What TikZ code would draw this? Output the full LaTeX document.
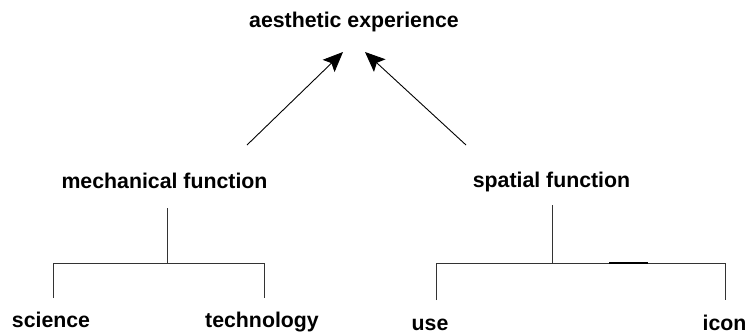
\documentclass[tikz,border=0pt]{standalone}
\usepackage{fontspec}
\setmainfont{Liberation Sans}
\usetikzlibrary{arrows.meta}
\begin{document}
\begin{tikzpicture}[x=1pt,y=-1pt,
  lbl/.style={font=\fontsize{21.3}{24}\selectfont\bfseries, anchor=base, inner sep=0pt},
  conn/.style={line width=0.9pt, draw=black!80},
  arr/.style={line width=0.9pt, draw=black, -{Stealth[length=20pt,width=17pt,inset=4pt]}}]
\useasboundingbox (0,0) rectangle (750,335);
\node[lbl] (ae) at (354,27.5) {aesthetic experience};
\node[lbl] (mf) at (164.5,188) {mechanical function};
\node[lbl] (sf) at (551.5,187) {spatial function};
\node[lbl] (sc) at (51,327) {science};
\node[lbl] (te) at (262,327) {technology};
\node[lbl] (us) at (430,330) {use};
\node[lbl] (ic) at (724.5,330) {icon};
% arrows
\coordinate (a1s) at (247,145);
\coordinate (a1t) at (343,52);
\coordinate (a2s) at (466,145);
\coordinate (a2t) at (365,52);
\draw[arr] (a1s) -- (a1t);
\draw[arr] (a2s) -- (a2t);
% left tree
\coordinate (m0) at (167,208);
\coordinate (m1) at (167,263);
\coordinate (ml) at (53,263);
\coordinate (mr) at (264,263);
\coordinate (mlb) at (53,298);
\coordinate (mrb) at (264,298);
\draw[conn] (m0) -- (m1);
\draw[conn] (mlb) -- (ml) -- (mr) -- (mrb);
% right tree
\coordinate (s0) at (552,205);
\coordinate (s1) at (552,263);
\coordinate (sl) at (436,263);
\coordinate (sr) at (725,263);
\coordinate (slb) at (436,300);
\coordinate (srb) at (725,300);
\coordinate (t1) at (609,263);
\coordinate (t2) at (648,263);
\draw[conn] (s0) -- (s1);
\draw[conn] (slb) -- (sl) -- (sr) -- (srb);
\draw[line width=2pt] (t1) -- (t2);
\end{tikzpicture}
\end{document}
